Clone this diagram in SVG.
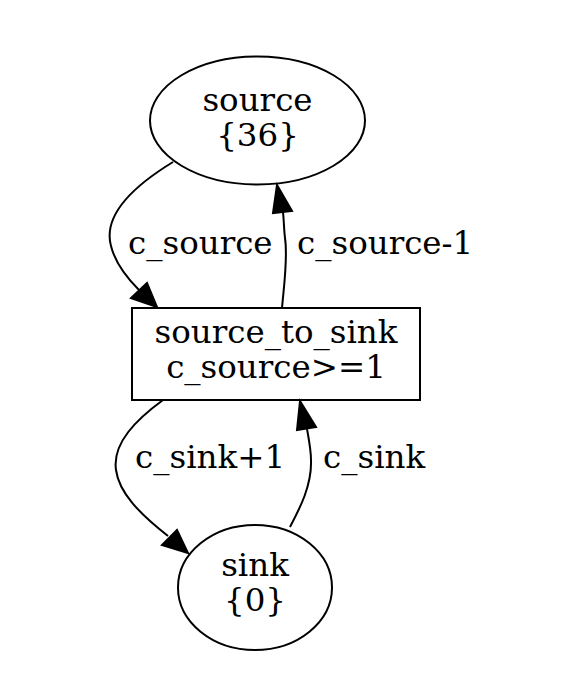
<svg xmlns="http://www.w3.org/2000/svg" width="566" height="700" viewBox="0 0 566 700">
<style>
text{font-family:"DejaVu Serif",serif;font-size:32.5px;fill:#000;text-anchor:middle}
.lab{text-anchor:start}
.n{fill:none;stroke:#000;stroke-width:2}
.e{fill:none;stroke:#000;stroke-width:2}
.h{fill:#000;stroke:#000;stroke-width:2}
</style>
<rect width="566" height="700" fill="#fff"/>
<g id="connectors">
<path class="e" d="M173,162 C137,184 102,213 111,246 C115,262 125,276 139,290"/>
<polygon class="h" points="157,307 131,298 147,283"/>
<path class="e" d="M282,308 C284,285 288,258 285,238 C284,230 284,222 283,212"/>
<polygon class="h" points="277,185 273,213 292,211"/>
<path class="e" d="M163,400 C137,419 112,443 116,470 C119,493 140,514 168,536"/>
<polygon class="h" points="188,553 162,545 177,530"/>
<path class="e" d="M290,527 C300,508 312,485 311,460 C311,450 309,440 307,429"/>
<polygon class="h" points="300,401 297,430 316,427"/>
<text class="lab" x="128" y="254">c_source</text>
<text class="lab" x="297" y="254">c_source-1</text>
<text class="lab" x="135" y="468">c_sink+1</text>
<text class="lab" x="323" y="468">c_sink</text>
</g>
<g id="source">
<ellipse class="n" cx="257.5" cy="120.5" rx="107.5" ry="64"/>
<text x="257.5" y="111">source</text>
<text x="257.5" y="146">{36}</text>
</g>
<g id="source_to_sink">
<rect class="n" x="132" y="308" width="288" height="92" stroke-width="2.5"/>
<text x="276" y="343">source_to_sink</text>
<text x="276" y="378">c_source&gt;=1</text>
</g>
<g id="sink">
<ellipse class="n" cx="255" cy="587.5" rx="77" ry="62.5"/>
<text x="255" y="576">sink</text>
<text x="255" y="611">{0}</text>
</g>
</svg>
